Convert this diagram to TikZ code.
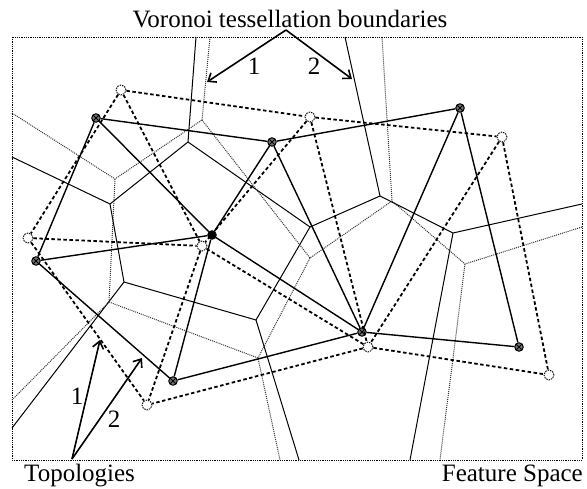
\documentclass[tikz,border=0pt]{standalone}
\usepackage{fontspec}
\setmainfont{Liberation Serif}
\usetikzlibrary{arrows.meta}

\tikzset{
  frame/.style={line width=0.8pt,dash pattern=on 1pt off 0.8pt},
  vor/.style={line width=1pt},
  vordot/.style={line width=1pt,black!80,dash pattern=on 1pt off 1pt},
  topo/.style={line width=1.4pt},
  topodash/.style={line width=1.8pt,dash pattern=on 3.5pt off 2.5pt},
  unitsolid/.style={circle,draw,line width=1pt,fill=black!55,inner sep=0pt,minimum size=8.5pt,
    path picture={\draw[line width=0.8pt] (path picture bounding box.south west) -- (path picture bounding box.north east)
      (path picture bounding box.north west) -- (path picture bounding box.south east);}},
  unitdash/.style={circle,draw,line width=0.9pt,dash pattern=on 1.5pt off 1pt,inner sep=0pt,minimum size=10pt},
  lbl/.style={inner sep=0pt,font=\fontsize{25}{28}\selectfont},
  ptr/.style={line width=1.6pt,-{Straight Barb[length=7pt,width=11pt,line width=1.6pt]}}
}

\begin{document}
\begin{tikzpicture}[x=1pt,y=-1pt]
\useasboundingbox (0,0) rectangle (587,489);
\draw[frame] (12,37) rectangle (582,460);

% Voronoi boundaries, solid set
\draw[vor] (196,37) -- (188,142) -- (110,204) -- (12,157);
\draw[vor] (188,142) -- (310,227) -- (380,196) -- (345,37);
\draw[vor] (110,204) -- (124,282) -- (12,428);
\draw[vor] (124,282) -- (256,320) -- (299,460);
\draw[vor] (310,227) -- (256,320);
\draw[vor] (380,196) -- (453,233) -- (582,204);
\draw[vor] (453,233) -- (410,460);

% Voronoi boundaries, dotted set
\draw[vordot] (210,37) -- (202,120) -- (115,179) -- (12,113);
\draw[vordot] (202,120) -- (310,258) -- (392,201) -- (382,37);
\draw[vordot] (115,179) -- (109,302) -- (12,400);
\draw[vordot] (109,302) -- (258,358) -- (280,460);
\draw[vordot] (310,258) -- (258,358);
\draw[vordot] (392,201) -- (465,264) -- (582,227);
\draw[vordot] (465,264) -- (440,460);

% units of the solid topology
\node[unitsolid] (A) at (96,118) {};
\node[unitsolid] (B) at (272,142) {};
\node[unitsolid] (C) at (460,108) {};
\node[unitsolid,fill=black] (D) at (212,235) {};
\node[unitsolid] (E) at (36,261) {};
\node[unitsolid] (F) at (362,332) {};
\node[unitsolid] (G) at (519,347) {};
\node[unitsolid] (H) at (173,381) {};

% units of the dashed topology
\node[unitdash] (a) at (121,90) {};
\node[unitdash] (b) at (310,117) {};
\node[unitdash] (c) at (502,137) {};
\node[unitdash] (d) at (28,238) {};
\node[unitdash] (e) at (202,246) {};
\node[unitdash] (f) at (368,347) {};
\node[unitdash] (g) at (549,375) {};
\node[unitdash] (h) at (147,405) {};

\foreach \p/\q in {A/B,B/C,A/E,A/D,B/D,B/F,C/F,C/G,D/E,D/F,D/H,E/H,F/G,F/H}
  \draw[topo] (\p) -- (\q);
\foreach \p/\q in {a/b,b/c,a/d,a/e,b/e,b/f,c/f,c/g,d/e,e/f,e/h,d/h,f/g,f/h}
  \draw[topodash] (\p) -- (\q);

% labels and pointers
\node[lbl,anchor=base] (vtitle) at (290,28) {Voronoi tessellation boundaries};
\node[lbl,anchor=base west] (toplbl) at (24,481) {Topologies};
\node[lbl,anchor=base east] (fslbl) at (583,481) {Feature Space};
\node[lbl,anchor=base] (vone) at (254,75) {1};
\node[lbl,anchor=base] (vtwo) at (314,75) {2};
\node[lbl,anchor=base] (tone) at (77,405) {1};
\node[lbl,anchor=base] (ttwo) at (114,428) {2};

\coordinate (vsrc) at (286,30);
\coordinate (vtip1) at (207,82);
\coordinate (vtip2) at (352,79);
\coordinate (tsrc) at (72,459);
\coordinate (ttip1) at (100,340);
\coordinate (ttip2) at (142,358);
\draw[ptr] (vsrc) -- (vtip1);
\draw[ptr] (vsrc) -- (vtip2);
\draw[ptr] (tsrc) -- (ttip1);
\draw[ptr] (tsrc) -- (ttip2);
\end{tikzpicture}
\end{document}
